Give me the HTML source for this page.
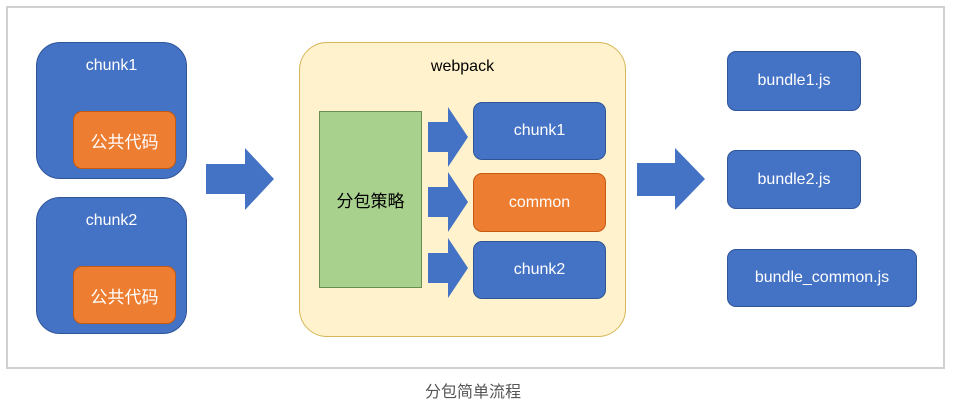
<!DOCTYPE html>
<html><head><meta charset="utf-8"><style>
body{margin:0;width:966px;height:407px;background:#fff;position:relative;overflow:hidden;font-family:"Liberation Sans","Noto Sans CJK SC",sans-serif}
.a{position:absolute;box-sizing:border-box;display:flex;align-items:center;justify-content:center;color:#fff;font-size:16px}
.b{background:#4472c4;border:1px solid #2f5597}
.o{background:#ed7d31;border:1px solid #c55a11;border-radius:9px;font-size:17px}
</style></head><body>
<div class="a" style="left:6px;top:6px;width:939px;height:363px;border:2px solid #d0d0d0"></div>
<div class="a b" style="left:36px;top:42px;width:151px;height:137px;border-radius:24px;align-items:flex-start;padding-top:14px">chunk1</div>
<div class="a o" style="left:73px;top:111px;width:103px;height:58px">公共代码</div>
<div class="a b" style="left:36px;top:197px;width:151px;height:137px;border-radius:24px;align-items:flex-start;padding-top:14px">chunk2</div>
<div class="a o" style="left:73px;top:266px;width:103px;height:58px">公共代码</div>
<div class="a" style="left:299px;top:42px;width:327px;height:295px;background:#fff2cc;border:1px solid #d6b656;border-radius:28px;color:#000;align-items:flex-start;padding-top:15px">webpack</div>
<div class="a" style="left:319px;top:111px;width:103px;height:177px;background:#a9d18e;border:1px solid #6a8e52;color:#000;font-size:17px">分包策略</div>
<div class="a b" style="left:473px;top:102px;width:133px;height:58px;border-radius:9px">chunk1</div>
<div class="a o" style="left:473px;top:173px;width:133px;height:59px;font-size:16px">common</div>
<div class="a b" style="left:473px;top:241px;width:133px;height:58px;border-radius:9px">chunk2</div>
<div class="a b" style="left:727px;top:51px;width:134px;height:60px;border-radius:9px">bundle1.js</div>
<div class="a b" style="left:727px;top:150px;width:134px;height:59px;border-radius:9px">bundle2.js</div>
<div class="a b" style="left:727px;top:249px;width:190px;height:58px;border-radius:9px">bundle_common.js</div>
<svg style="position:absolute;left:0;top:0" width="966" height="407">
<g fill="#4472c4">
<polygon points="206,164 245,164 245,148 274,179 245,210 245,194 206,194"/>
<polygon points="637,163 675,163 675,148 705,179 675,210 675,196 637,196"/>
<polygon points="428,122 448,122 448,107 468,137 448,167 448,152 428,152"/>
<polygon points="428,187 448,187 448,172 468,202 448,232 448,217 428,217"/>
<polygon points="428,253 448,253 448,238 468,268 448,298 448,283 428,283"/>
</g></svg>
<div class="a" style="left:373px;top:378px;width:200px;height:24px;color:#555;font-size:16px">分包简单流程</div>
</body></html>
